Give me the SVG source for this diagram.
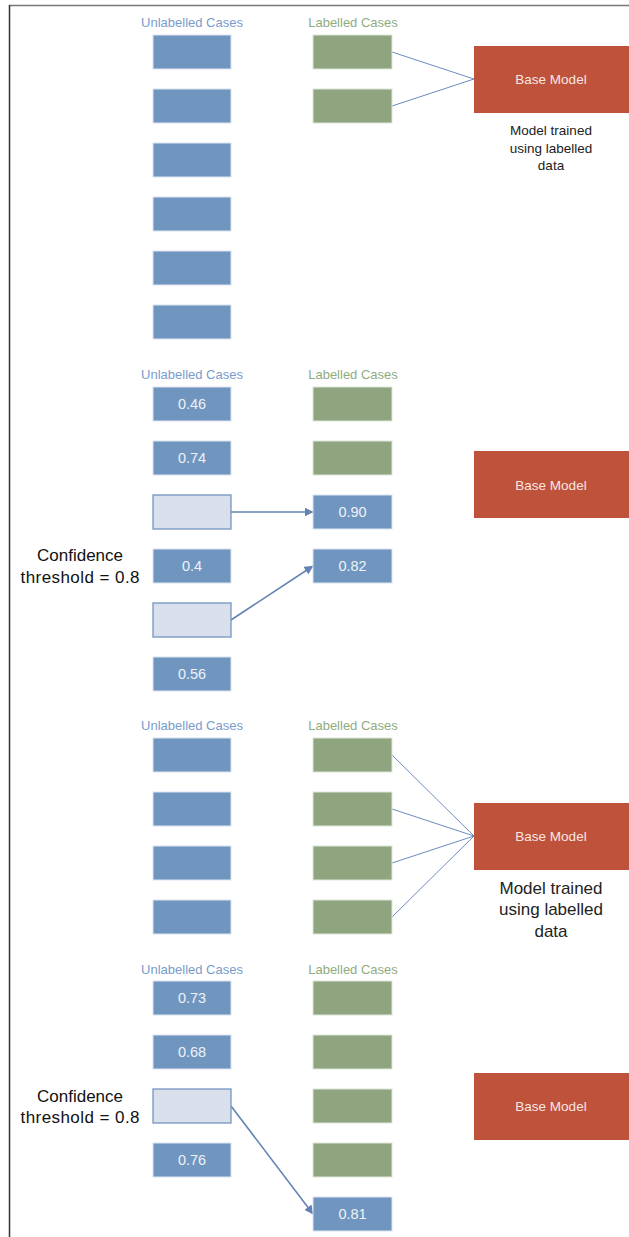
<svg xmlns="http://www.w3.org/2000/svg" width="629" height="1237" viewBox="0 0 629 1237">
<style>
text{font-family:"Liberation Sans",Arial,sans-serif;text-anchor:middle}
.ub{fill:#7096c0;stroke:#dbe4ef;stroke-width:1}
.lb{fill:#8fa580;stroke:#dde5d6;stroke-width:1}
.pale{fill:#d9e0ec;stroke:#7396c1;stroke-width:1.3}
.red{fill:#be523a}
.hu{font-size:13px;fill:#7a9ccb}
.hl{font-size:13px;fill:#8fac80}
.val{font-size:14.5px;fill:#eef2f8}
.bm{font-size:13.5px;fill:#f9e6e2}
.note{font-size:13.5px;fill:#222}
.note2{font-size:17px;fill:#222}
.conf{font-size:17px;fill:#111}
.thin{stroke:#6a8cbf;stroke-width:1;fill:none}
.arr{stroke:#6283b3;stroke-width:1.6;fill:none}
</style>
<defs>
<marker id="ah" markerWidth="9" markerHeight="9" refX="8.5" refY="4.5" orient="auto" markerUnits="userSpaceOnUse">
<path d="M0,0 L9,4.5 L0,9 z" fill="#6283b3"/>
</marker>
</defs>
<rect width="629" height="1237" fill="#fff"/>
<g id="frame">
<line x1="9" y1="5.5" x2="629" y2="5.5" stroke="#777" stroke-width="1.5"/>
<line x1="9.5" y1="5" x2="9.5" y2="1237" stroke="#333" stroke-width="1.5"/>
</g>

<g id="connectors">
<line class="thin" x1="392" y1="52" x2="474" y2="79"/>
<line class="thin" x1="392" y1="106" x2="474" y2="79"/>
<line class="arr" x1="231" y1="512" x2="313" y2="512" marker-end="url(#ah)"/>
<line class="arr" x1="231" y1="620" x2="313" y2="566" marker-end="url(#ah)"/>
<line class="thin" x1="392" y1="755" x2="474" y2="836"/>
<line class="thin" x1="392" y1="809" x2="474" y2="836"/>
<line class="thin" x1="392" y1="863" x2="474" y2="836"/>
<line class="thin" x1="392" y1="917" x2="474" y2="836"/>
<line class="arr" x1="231" y1="1106" x2="313" y2="1214" marker-end="url(#ah)"/>
</g>

<!-- Section 1 -->
<g id="s1-headers">
<text class="hu" x="192" y="27">Unlabelled Cases</text>
<text class="hl" x="353" y="27">Labelled Cases</text>
</g>
<g id="s1-u1"><rect class="ub" x="153" y="35" width="78" height="34"/></g>
<g id="s1-u2"><rect class="ub" x="153" y="89" width="78" height="34"/></g>
<g id="s1-u3"><rect class="ub" x="153" y="143" width="78" height="34"/></g>
<g id="s1-u4"><rect class="ub" x="153" y="197" width="78" height="34"/></g>
<g id="s1-u5"><rect class="ub" x="153" y="251" width="78" height="34"/></g>
<g id="s1-u6"><rect class="ub" x="153" y="305" width="78" height="34"/></g>
<g id="s1-l1"><rect class="lb" x="313" y="35" width="79" height="34"/></g>
<g id="s1-l2"><rect class="lb" x="313" y="89" width="79" height="34"/></g>
<g id="s1-model">
<rect class="red" x="474" y="46" width="155" height="67"/>
<text class="bm" x="551" y="84">Base Model</text>
<text class="note" x="551" y="135">Model trained</text>
<text class="note" x="551" y="152.5">using labelled</text>
<text class="note" x="551" y="170">data</text>
</g>

<!-- Section 2 -->
<g id="s2-headers">
<text class="hu" x="192" y="379">Unlabelled Cases</text>
<text class="hl" x="353" y="379">Labelled Cases</text>
</g>
<g id="s2-u1"><rect class="ub" x="153" y="387" width="78" height="34"/><text class="val" x="192" y="409">0.46</text></g>
<g id="s2-u2"><rect class="ub" x="153" y="441" width="78" height="34"/><text class="val" x="192" y="463">0.74</text></g>
<g id="s2-u3"><rect class="pale" x="153" y="495" width="78" height="34"/></g>
<g id="s2-u4"><rect class="ub" x="153" y="549" width="78" height="34"/><text class="val" x="192" y="571">0.4</text></g>
<g id="s2-u5"><rect class="pale" x="153" y="603" width="78" height="34"/></g>
<g id="s2-u6"><rect class="ub" x="153" y="657" width="78" height="34"/><text class="val" x="192" y="679">0.56</text></g>
<g id="s2-l1"><rect class="lb" x="313" y="387" width="79" height="34"/></g>
<g id="s2-l2"><rect class="lb" x="313" y="441" width="79" height="34"/></g>
<g id="s2-l3"><rect class="ub" x="313" y="495" width="79" height="34"/><text class="val" x="352.5" y="517">0.90</text></g>
<g id="s2-l4"><rect class="ub" x="313" y="549" width="79" height="34"/><text class="val" x="352.5" y="571">0.82</text></g>
<g id="s2-model">
<rect class="red" x="474" y="451" width="155" height="67"/>
<text class="bm" x="551" y="490">Base Model</text>
</g>
<g id="s2-threshold">
<text class="conf" x="80" y="561">Confidence</text>
<text class="conf" x="80" y="583" textLength="119" lengthAdjust="spacing">threshold = 0.8</text>
</g>

<!-- Section 3 -->
<g id="s3-headers">
<text class="hu" x="192" y="730">Unlabelled Cases</text>
<text class="hl" x="353" y="730">Labelled Cases</text>
</g>
<g id="s3-u1"><rect class="ub" x="153" y="738" width="78" height="34"/></g>
<g id="s3-u2"><rect class="ub" x="153" y="792" width="78" height="34"/></g>
<g id="s3-u3"><rect class="ub" x="153" y="846" width="78" height="34"/></g>
<g id="s3-u4"><rect class="ub" x="153" y="900" width="78" height="34"/></g>
<g id="s3-l1"><rect class="lb" x="313" y="738" width="79" height="34"/></g>
<g id="s3-l2"><rect class="lb" x="313" y="792" width="79" height="34"/></g>
<g id="s3-l3"><rect class="lb" x="313" y="846" width="79" height="34"/></g>
<g id="s3-l4"><rect class="lb" x="313" y="900" width="79" height="34"/></g>
<g id="s3-model">
<rect class="red" x="474" y="803" width="155" height="67"/>
<text class="bm" x="551" y="841">Base Model</text>
<text class="note2" x="551" y="894">Model trained</text>
<text class="note2" x="551" y="915">using labelled</text>
<text class="note2" x="551" y="936.5">data</text>
</g>

<!-- Section 4 -->
<g id="s4-headers">
<text class="hu" x="192" y="974">Unlabelled Cases</text>
<text class="hl" x="353" y="974">Labelled Cases</text>
</g>
<g id="s4-u1"><rect class="ub" x="153" y="981" width="78" height="34"/><text class="val" x="192" y="1003">0.73</text></g>
<g id="s4-u2"><rect class="ub" x="153" y="1035" width="78" height="34"/><text class="val" x="192" y="1057">0.68</text></g>
<g id="s4-u3"><rect class="pale" x="153" y="1089" width="78" height="34"/></g>
<g id="s4-u4"><rect class="ub" x="153" y="1143" width="78" height="34"/><text class="val" x="192" y="1165">0.76</text></g>
<g id="s4-l1"><rect class="lb" x="313" y="981" width="79" height="34"/></g>
<g id="s4-l2"><rect class="lb" x="313" y="1035" width="79" height="34"/></g>
<g id="s4-l3"><rect class="lb" x="313" y="1089" width="79" height="34"/></g>
<g id="s4-l4"><rect class="lb" x="313" y="1143" width="79" height="34"/></g>
<g id="s4-l5"><rect class="ub" x="313" y="1197" width="79" height="34"/><text class="val" x="352.5" y="1219">0.81</text></g>
<g id="s4-model">
<rect class="red" x="474" y="1073" width="155" height="67"/>
<text class="bm" x="551" y="1111">Base Model</text>
</g>
<g id="s4-threshold">
<text class="conf" x="80" y="1102">Confidence</text>
<text class="conf" x="80" y="1123" textLength="119" lengthAdjust="spacing">threshold = 0.8</text>
</g>
</svg>
